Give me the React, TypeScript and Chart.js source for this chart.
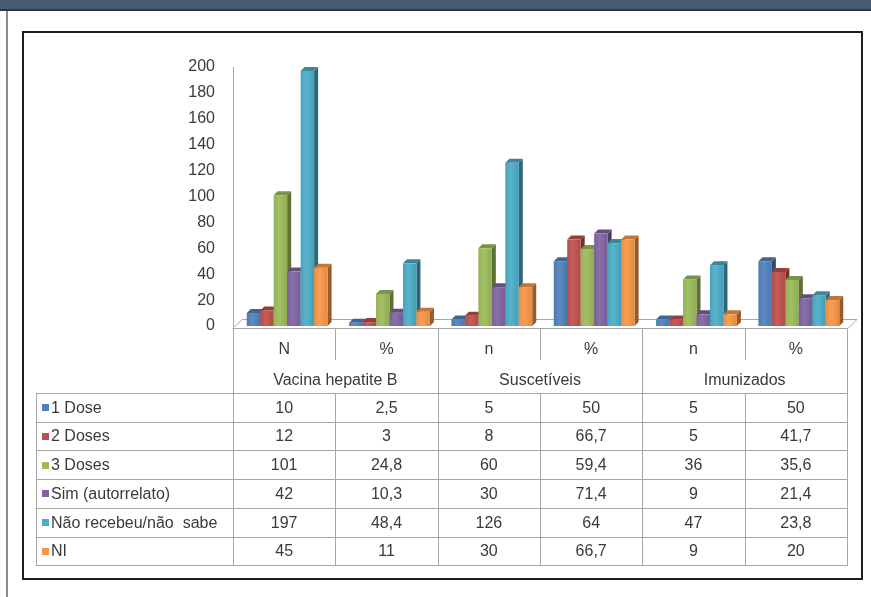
import React, { useEffect, useRef } from 'react';
import { Chart, registerables } from 'chart.js';

Chart.register(...registerables);

// ---------- data ----------
const categories = ['N', '%', 'n', '%', 'n', '%'];
const groups = ['Vacina hepatite B', 'Suscetíveis', 'Imunizados'];
const seriesNames = ['1 Dose', '2 Doses', '3 Doses', 'Sim (autorrelato)', 'Não recebeu/não  sabe', 'NI'];
const dose1 = [10, 2.5, 5, 50, 5, 50];
const dose2 = [12, 3, 8, 66.7, 5, 41.7];
const dose3 = [101, 24.8, 60, 59.4, 36, 35.6];
const simAutorrelato = [42, 10.3, 30, 71.4, 9, 21.4];
const naoRecebeu = [197, 48.4, 126, 64, 47, 23.8];
const naoInformado = [45, 11, 30, 66.7, 9, 20];
const seriesValues = [dose1, dose2, dose3, simAutorrelato, naoRecebeu, naoInformado];
const seriesColors = ['#4F81BD', '#C0504D', '#9BBB59', '#8064A2', '#4BACC6', '#F79646'];
const yMin = 0;
const yMax = 200;
const yStep = 20;

// ---------- styling constants ----------
const FONT = '"Liberation Sans", Arial, sans-serif';
const TEXT = '#3a3a3a';
const LINE = '#a6a6a6';
const DX = 4; // bar depth (x)
const DY = 4; // bar depth (y)
const SHIFT = 3;
const TABLE_LEFT = 36;
const HEADER_TOP = 328;
const PAIR_SPLIT = 360;
const ROW1_Y = 350;
const GROUP_Y = 381;
const DATA_TOP = 393;
const ROW_H = 28.7;

function shade(hex: string, f: number) {
  const n = parseInt(hex.slice(1), 16);
  const r = Math.round(((n >> 16) & 255) * f);
  const g = Math.round(((n >> 8) & 255) * f);
  const b = Math.round((n & 255) * f);
  return `rgb(${r},${g},${b})`;
}
function tint(hex: string, t: number) {
  const n = parseInt(hex.slice(1), 16);
  const c = [(n >> 16) & 255, (n >> 8) & 255, n & 255].map((v) => Math.round(v + (255 - v) * t));
  return `rgb(${c[0]},${c[1]},${c[2]})`;
}
const fmt = (v: number) => String(v).replace('.', ',');
const px = (v: number) => Math.round(v) + 0.5;

const excel3d = {
  id: 'excel3d',
  beforeDatasetsDraw(chart: any) {
    const ctx = chart.ctx;
    const { left, right, bottom } = chart.chartArea;
    const fy = px(bottom + 2);
    ctx.save();
    // floor
    ctx.strokeStyle = LINE;
    ctx.lineWidth = 1;
    ctx.beginPath();
    ctx.moveTo(left, fy);
    ctx.lineTo(left + 9, fy - 9);
    ctx.lineTo(right + 10, fy - 9);
    ctx.lineTo(right + 1, fy);
    ctx.lineTo(left, fy);
    ctx.stroke();
    // bars, drawn left to right
    const nCat = chart.data.labels.length;
    for (let i = 0; i < nCat; i++) {
      for (let d = 0; d < chart.data.datasets.length; d++) {
        const el = chart.getDatasetMeta(d).data[i];
        const { x, y, base, width } = el.getProps(['x', 'y', 'base', 'width'], true);
        const l = x - width / 2 + SHIFT;
        const r = x + width / 2 + SHIFT;
        const color = seriesColors[d];
        ctx.fillStyle = shade(color, 0.6);
        ctx.beginPath();
        ctx.moveTo(r, y);
        ctx.lineTo(r + DX, y - DY);
        ctx.lineTo(r + DX, base - DY);
        ctx.lineTo(r, base);
        ctx.closePath();
        ctx.fill();
        ctx.fillStyle = shade(color, 0.78);
        ctx.beginPath();
        ctx.moveTo(l, y);
        ctx.lineTo(l + DX, y - DY);
        ctx.lineTo(r + DX, y - DY);
        ctx.lineTo(r, y);
        ctx.closePath();
        ctx.fill();
        const g = ctx.createLinearGradient(l, 0, r, 0);
        g.addColorStop(0, shade(color, 0.95));
        g.addColorStop(0.4, tint(color, 0.08));
        g.addColorStop(1, shade(color, 0.92));
        ctx.fillStyle = g;
        ctx.fillRect(l, y, r - l, base - y);
      }
    }
    ctx.restore();
    return false;
  },
  afterDraw(chart: any) {
    const ctx = chart.ctx;
    const xs = chart.scales.x;
    const n = categories.length;
    const colW = xs.width / n;
    const edges = Array.from({ length: n + 1 }, (_, i) => xs.left + i * colW);
    const right = edges[n];
    ctx.save();
    ctx.strokeStyle = LINE;
    ctx.lineWidth = 1;
    // header verticals
    ctx.beginPath();
    edges.forEach((e, i) => {
      ctx.moveTo(px(e), HEADER_TOP);
      ctx.lineTo(px(e), i % 2 === 0 ? DATA_TOP : PAIR_SPLIT);
    });
    // data grid
    for (let k = 0; k <= seriesNames.length; k++) {
      const yy = px(DATA_TOP + k * ROW_H);
      ctx.moveTo(TABLE_LEFT, yy);
      ctx.lineTo(px(right) + 0.5, yy);
    }
    const tableBottom = DATA_TOP + seriesNames.length * ROW_H;
    [TABLE_LEFT, ...edges].forEach((e) => {
      ctx.moveTo(px(e), px(DATA_TOP));
      ctx.lineTo(px(e), px(tableBottom));
    });
    ctx.stroke();

    ctx.fillStyle = TEXT;
    ctx.font = `16px ${FONT}`;
    ctx.textBaseline = 'middle';
    ctx.textAlign = 'center';
    categories.forEach((c, i) => ctx.fillText(c, (edges[i] + edges[i + 1]) / 2, ROW1_Y));
    groups.forEach((g, i) => ctx.fillText(g, edges[2 * i + 1], GROUP_Y));
    seriesValues.forEach((vals, d) => {
      const cy = DATA_TOP + (d + 0.5) * ROW_H;
      vals.forEach((v, i) => ctx.fillText(fmt(v), (edges[i] + edges[i + 1]) / 2, cy + 1));
      ctx.fillStyle = seriesColors[d];
      ctx.fillRect(TABLE_LEFT + 6, Math.round(cy - 3), 7, 7);
      ctx.fillStyle = TEXT;
      ctx.textAlign = 'left';
      ctx.fillText(seriesNames[d], TABLE_LEFT + 15, cy + 1);
      ctx.textAlign = 'center';
    });
    ctx.restore();
  },
};

export default function App() {
  const ref = useRef<HTMLCanvasElement>(null);
  useEffect(() => {
    document.body.style.margin = '0';
    const chart = new Chart(ref.current!, {
      type: 'bar',
      data: {
        labels: categories,
        datasets: seriesValues.map((vals, d) => ({
          label: seriesNames[d],
          data: vals,
          backgroundColor: seriesColors[d],
          categoryPercentage: 0.79,
          barPercentage: 1,
        })),
      },
      options: {
        responsive: false,
        animation: false,
        devicePixelRatio: 1,
        layout: { padding: { top: 67, bottom: 271, right: 24, left: 0 } },
        plugins: { legend: { display: false }, tooltip: { enabled: false } },
        scales: {
          x: { display: false },
          y: {
            min: yMin,
            max: yMax,
            afterFit: (s: any) => {
              s.width = 233;
            },
            ticks: { stepSize: yStep, color: TEXT, padding: 18, font: { family: FONT, size: 16 } },
            grid: { display: false, drawTicks: false },
            border: { display: true, color: LINE, width: 1 },
          },
        },
      },
      plugins: [excel3d],
    });
    return () => chart.destroy();
  }, []);

  return (
    <div style={{ position: 'fixed', left: 0, top: 0, width: 871, height: 597, background: '#fff', overflow: 'hidden' }}>
      <div style={{ position: 'absolute', left: 0, top: 0, width: 871, height: 9, background: '#485a70', borderBottom: '2px solid #333' }} />
      <div style={{ position: 'absolute', left: 6, top: 11, width: 2, height: 586, background: '#8c8c8c' }} />
      <div style={{ position: 'absolute', left: 22, top: 31, width: 837, height: 545, border: '2px solid #1e1e1e' }} />
      <canvas ref={ref} width={871} height={597} style={{ position: 'absolute', left: 0, top: 0, width: 871, height: 597 }} />
    </div>
  );
}
